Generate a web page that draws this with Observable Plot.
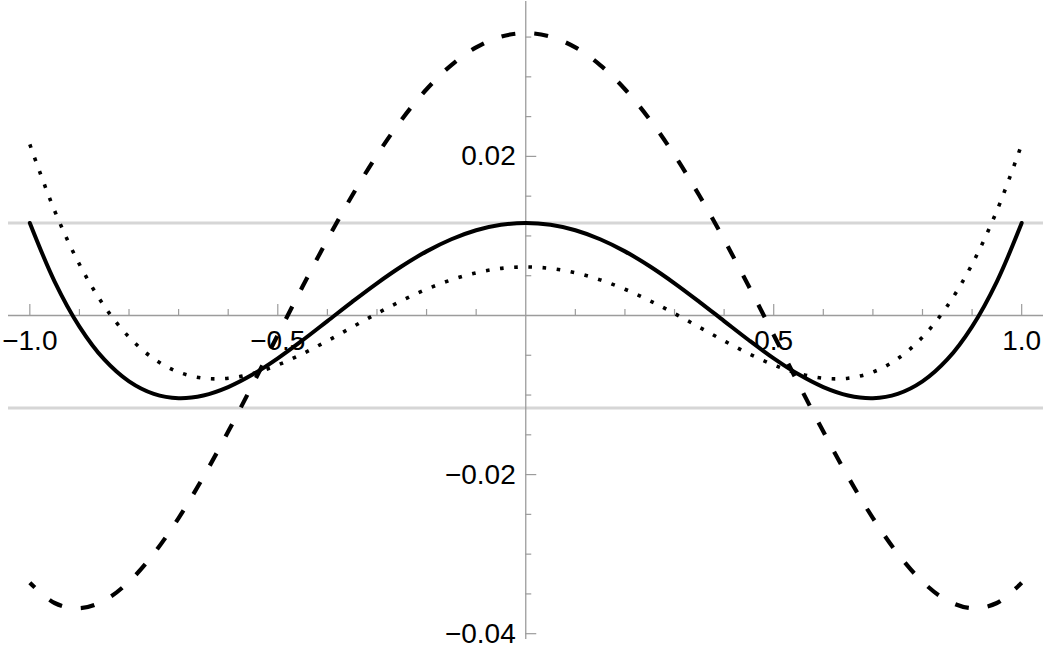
<!DOCTYPE html>
<html><head><meta charset="utf-8">
<script src="https://cdn.jsdelivr.net/npm/d3@7"></script>
<script src="https://cdn.jsdelivr.net/npm/@observablehq/plot@0.6"></script>
<style>body{margin:0;background:#fff}svg{display:block}</style>
</head><body><div id="chart"></div>
<script>
const xs = [-1,-0.95,-0.9,-0.85,-0.8,-0.75,-0.7,-0.65,-0.6,-0.55,-0.5,-0.45,-0.4,-0.35,-0.3,-0.25,-0.2,-0.15,-0.1,-0.05,0,
  0.05,0.1,0.15,0.2,0.25,0.3,0.35,0.4,0.45,0.5,0.55,0.6,0.65,0.7,0.75,0.8,0.85,0.9,0.95,1];
const solidSeries = [0.01163,0.00427,-0.00139,-0.00553,-0.00829,-0.00986,-0.01039,-0.01005,-0.00900,-0.00740,-0.00539,-0.00311,-0.00070,0.00172,0.00405,0.00619,0.00806,0.00958,0.01071,0.01140,0.01163,
  0.01140,0.01071,0.00958,0.00806,0.00619,0.00405,0.00172,-0.00070,-0.00311,-0.00539,-0.00740,-0.00900,-0.01005,-0.01039,-0.00986,-0.00829,-0.00553,-0.00139,0.00427,0.01163];
const dottedSeries = [0.02150,0.01317,0.00644,0.00119,-0.00272,-0.00544,-0.00711,-0.00788,-0.00789,-0.00729,-0.00622,-0.00481,-0.00319,-0.00147,0.00025,0.00186,0.00330,0.00448,0.00537,0.00592,0.00610,
  0.00592,0.00537,0.00448,0.00330,0.00186,0.00025,-0.00147,-0.00319,-0.00481,-0.00622,-0.00729,-0.00789,-0.00788,-0.00711,-0.00544,-0.00272,0.00119,0.00644,0.01317,0.02150];
const dashedSeries = [-0.03360,-0.03614,-0.03680,-0.03583,-0.03346,-0.02993,-0.02547,-0.02029,-0.01459,-0.00859,-0.00245,0.00364,0.00953,0.01508,0.02015,0.02464,0.02844,0.03148,0.03370,0.03505,0.03550,
  0.03505,0.03370,0.03148,0.02844,0.02464,0.02015,0.01508,0.00953,0.00364,-0.00245,-0.00859,-0.01459,-0.02029,-0.02547,-0.02993,-0.03346,-0.03583,-0.03680,-0.03614,-0.03360];
const refLevels = [0.01163, -0.01163];
const xMajorTicks = [-1, -0.5, 0.5, 1];
const xTickLabels = ["\u22121.0", "\u22120.5", "0.5", "1.0"];
const xMinorTicks = [-0.9,-0.8,-0.7,-0.6,-0.4,-0.3,-0.2,-0.1,0.1,0.2,0.3,0.4,0.6,0.7,0.8,0.9];
const yMajorTicks = [-0.04, -0.02, 0.02];
const yTickLabels = ["\u22120.04", "\u22120.02", "0.02"];
const yMinorTicks = [-0.035,-0.03,-0.025,-0.015,-0.01,-0.005,0.005,0.01,0.015,0.025,0.03,0.035];

const W = 1046, H = 654, mL = 8, mR = 3, mT = 1, mB = 15;
const xDom = [-1.043, 1.044], yDom = [-0.04073, 0.03947];
const pxX = (xDom[1] - xDom[0]) / (W - mL - mR);
const pxY = (yDom[1] - yDom[0]) / (H - mT - mB);
const rows = xs.map((x, i) => ({x, solid: solidSeries[i], dotted: dottedSeries[i], dashed: dashedSeries[i]}));
const axisColor = "#9c9c9c";
const font = "Liberation Sans, Arial, Helvetica, sans-serif";

const chart = Plot.plot({
  width: W, height: H,
  marginLeft: mL, marginRight: mR, marginTop: mT, marginBottom: mB,
  x: {domain: xDom, axis: null},
  y: {domain: yDom, axis: null},
  style: {fontFamily: font, background: "#fff"},
  marks: [
    Plot.ruleY(refLevels, {stroke: "#d6d6d6", strokeWidth: 3}),
    Plot.ruleY([0], {stroke: axisColor, strokeWidth: 1.3}),
    Plot.ruleX([0], {stroke: axisColor, strokeWidth: 1.3}),
    Plot.ruleX(xMinorTicks, {x: d => d, y1: 0, y2: 6 * pxY, stroke: axisColor, strokeWidth: 1.2}),
    Plot.ruleX(xMajorTicks, {x: d => d, y1: 0, y2: 11 * pxY, stroke: axisColor, strokeWidth: 1.2}),
    Plot.ruleY(yMinorTicks, {y: d => d, x1: 0, x2: 6 * pxX, stroke: axisColor, strokeWidth: 1.2}),
    Plot.ruleY(yMajorTicks, {y: d => d, x1: 0, x2: 11 * pxX, stroke: axisColor, strokeWidth: 1.2}),
    Plot.text(xMajorTicks, {x: d => d, y: 0, text: (d, i) => xTickLabels[i], dy: 26, fontSize: 28, fill: "#000"}),
    Plot.text(yMajorTicks, {x: 0, y: d => d, text: (d, i) => yTickLabels[i], dx: -10, textAnchor: "end", fontSize: 28, fill: "#000"}),
    Plot.line(rows, {x: "x", y: "dashed", curve: "catmull-rom", stroke: "#000", strokeWidth: 4.2, strokeLinecap: "butt", strokeDasharray: "14,19", strokeDashoffset: 7}),
    Plot.line(rows, {x: "x", y: "dotted", curve: "catmull-rom", stroke: "#000", strokeWidth: 3.6, strokeLinecap: "butt", strokeDasharray: "3.6,10.6"}),
    Plot.line(rows, {x: "x", y: "solid", curve: "catmull-rom", stroke: "#000", strokeWidth: 4})
  ]
});
document.getElementById("chart").appendChild(chart);
</script>
</body></html>
